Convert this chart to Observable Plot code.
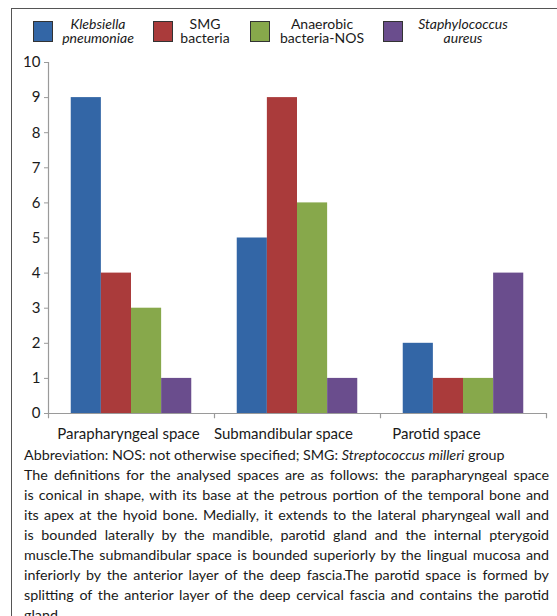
<!DOCTYPE html>
<html><head><meta charset="utf-8">
<script src="https://cdn.jsdelivr.net/npm/d3@7"></script>
<script src="https://cdn.jsdelivr.net/npm/@observablehq/plot@0.6"></script>
<style>
html,body{margin:0;padding:0;background:#fff;overflow:hidden;width:557px;height:616px;}
body{font-family:Lato,"Open Sans",sans-serif;color:#1a1a1a;position:relative;}
#frame{position:absolute;left:11px;top:8px;width:620px;height:700px;border:1.5px solid #555;box-sizing:border-box;}
.leg{position:absolute;width:130px;height:14px;font-size:14px;line-height:14px;text-align:center;overflow:visible;}
.sw{position:absolute;top:21px;width:20px;height:21px;border:1px solid #333;box-sizing:border-box;}
#chart{position:absolute;left:0;top:50px;}
#abbr{position:absolute;left:24px;top:446px;font-size:14.3px;white-space:nowrap;}
#para{position:absolute;left:24px;top:465px;width:525px;font-size:14.3px;line-height:20px;}
#para div{text-align:justify;text-align-last:justify;white-space:nowrap;}
#para div.last{text-align-last:left;}
</style>
</head><body>
<div id="frame"></div>
<div id="legend"></div>
<div id="chart"></div>
<div id="abbr">Abbreviation: NOS: not otherwise specified; SMG: <i>Streptococcus milleri</i> group</div>
<div id="para"></div>
<script>
// ---- data ----
const categories = ["Parapharyngeal space", "Submandibular space", "Parotid space"];
const seriesNames = ["Klebsiella pneumoniae", "SMG bacteria", "Anaerobic bacteria-NOS", "Staphylococcus aureus"];
const legendLines = [["Klebsiella", "pneumoniae"], ["SMG", "bacteria"], ["Anaerobic", "bacteria-NOS"], ["Staphylococcus", "aureus"]];
const legendItalic = [true, false, false, true];
const klebsiella = [9, 5, 2];
const smg = [4, 9, 1];
const anaerobic = [3, 6, 1];
const staph = [1, 1, 4];
const yTicks = [0, 1, 2, 3, 4, 5, 6, 7, 8, 9, 10];
const captionLines = [
  "The definitions for the analysed spaces are as follows: the parapharyngeal space",
  "is conical in shape, with its base at the petrous portion of the temporal bone and",
  "its apex at the hyoid bone. Medially, it extends to the lateral pharyngeal wall and",
  "is bounded laterally by the mandible, parotid gland and the internal pterygoid",
  "muscle.The submandibular space is bounded superiorly by the lingual mucosa and",
  "inferiorly by the anterior layer of the deep fascia.The parotid space is formed by",
  "splitting of the anterior layer of the deep cervical fascia and contains the parotid",
  "gland."
];

// ---- styles ----
const colors = ["#3366a6", "#aa3b3b", "#87a84b", "#6a4d8d"];
const values = [klebsiella, smg, anaerobic, staph];

// legend
const swatchLeft = [33, 153, 250, 383];
const textCenter = [98, 205, 322, 463];
const lineTops = [17, 31];
const legend = document.getElementById("legend");
seriesNames.forEach((name, s) => {
  const sw = document.createElement("div");
  sw.className = "sw";
  sw.style.left = swatchLeft[s] + "px";
  sw.style.background = colors[s];
  sw.title = name;
  legend.appendChild(sw);
  legendLines[s].forEach((line, k) => {
    const t = document.createElement("div");
    t.className = "leg";
    t.style.left = (textCenter[s] - 65) + "px";
    t.style.top = lineTops[k] + "px";
    t.style.fontStyle = legendItalic[s] ? "italic" : "normal";
    t.textContent = line;
    legend.appendChild(t);
  });
});

// caption
const para = document.getElementById("para");
captionLines.forEach((line, i) => {
  const d = document.createElement("div");
  d.textContent = line;
  if (i === captionLines.length - 1) d.className = "last";
  para.appendChild(d);
});

// chart
const W = 557, H = 400, mL = 48, mR = 11, mT = 12, mB = 37;
const bw = (W - mL - mR) / categories.length;
const groupPad = bw * 0.137;
const barW = (bw - 2 * groupPad) / 4;
const labelDx = [-3, -14, -27];
const axisColor = "#9a9a9a";

const barMarks = values.map((vals, s) =>
  Plot.barY(categories.map((c, i) => ({category: c, value: vals[i], series: seriesNames[s]})), {
    x: "category", y: "value", fill: colors[s],
    insetLeft: groupPad + s * barW,
    insetRight: bw - groupPad - (s + 1) * barW
  })
);

const labelMarks = categories.map((c, i) =>
  Plot.text([c], {x: d => d, y: 0, dy: 21, dx: labelDx[i], fontSize: 15, fill: "#1a1a1a", lineAnchor: "middle"})
);

const chart = Plot.plot({
  width: W, height: H,
  marginLeft: mL, marginRight: mR, marginTop: mT, marginBottom: mB,
  style: {fontFamily: "Lato, 'Open Sans', sans-serif", background: "transparent"},
  x: {domain: categories, padding: 0, round: false, axis: null},
  y: {domain: [0, 10], axis: null},
  marks: [
    ...barMarks,
    Plot.ruleY([0], {stroke: axisColor, strokeWidth: 1.2}),
    Plot.frame({anchor: "left", stroke: axisColor, strokeWidth: 1.2}),
    Plot.ruleX(categories, {x: d => d, y1: 0, y2: -0.15, dx: -bw / 2, stroke: axisColor, strokeWidth: 1.2}),
    Plot.ruleX(categories.slice(-1), {x: d => d, y1: 0, y2: -0.15, dx: bw / 2, stroke: axisColor, strokeWidth: 1.2}),
    Plot.axisY({ticks: yTicks, tickSize: 4, tickPadding: 4, fontSize: 15, stroke: axisColor, fill: "#1a1a1a", label: null, tickFormat: d => String(d)}),
    ...labelMarks
  ]
});
document.getElementById("chart").appendChild(chart);
</script>
</body></html>
